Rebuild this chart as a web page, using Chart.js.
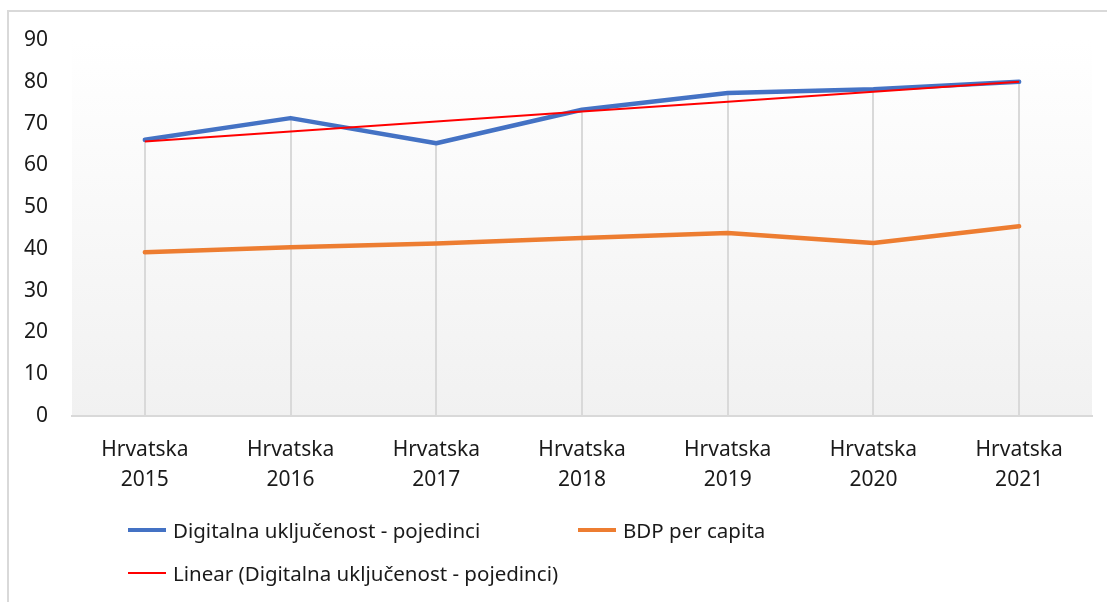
<!DOCTYPE html>
<html>
<head>
<meta charset="utf-8">
<script src="https://cdn.jsdelivr.net/npm/chart.js@4.4.0/dist/chart.umd.min.js"></script>
<style>
  html, body { margin: 0; padding: 0; background: #fff; }
  #wrap { position: relative; width: 1107px; height: 602px; overflow: hidden; font-family: 'Noto Sans', sans-serif; }
  #frame { position: absolute; left: 7px; top: 10px; width: 1200px; height: 700px; border: 2px solid #d9d9d9; box-sizing: border-box; }
  #chart { position: absolute; left: 0; top: 0; }
  .item { position: absolute; height: 30px; line-height: 30px; font-size: 20.5px; color: #1a1a1a; white-space: nowrap; }
  .item span.sw { position: absolute; left: 0; top: 50%; width: 38px; }
  .item span.tx { position: absolute; left: 45px; top: 0; }
</style>
</head>
<body>
<div id="wrap">
  <div id="frame"></div>
  <canvas id="chart" width="1107" height="602"></canvas>
  <div id="legend"></div>
</div>
<script>
var categories = [
  ['Hrvatska', '2015'], ['Hrvatska', '2016'], ['Hrvatska', '2017'], ['Hrvatska', '2018'],
  ['Hrvatska', '2019'], ['Hrvatska', '2020'], ['Hrvatska', '2021']
];
var digitalna = [66.1, 71.3, 65.3, 73.3, 77.3, 78.2, 80.0];
var bdp = [39.2, 40.4, 41.3, 42.6, 43.8, 41.4, 45.4];
var linear = [65.7, 68.1, 70.5, 72.9, 75.2, 77.6, 80.0];
var seriesNames = ['Digitalna uključenost - pojedinci', 'BDP per capita', 'Linear (Digitalna uključenost - pojedinci)'];
var yTicks = [0, 10, 20, 30, 40, 50, 60, 70, 80, 90];

var textColor = '#1a1a1a';

// plot background: white at top, light grey at the axis
var plotBg = {
  id: 'plotBg',
  beforeDraw: function(chart) {
    var a = chart.chartArea, ctx = chart.ctx;
    var g = ctx.createLinearGradient(0, a.top, 0, a.bottom);
    g.addColorStop(0, '#ffffff');
    g.addColorStop(1, '#f1f1f1');
    ctx.save();
    ctx.fillStyle = g;
    ctx.fillRect(a.left, a.top, a.right - a.left, a.bottom - a.top);
    ctx.restore();
  }
};

// excel style drop lines: from the highest point of each category to the axis
var dropLines = {
  id: 'dropLines',
  beforeDatasetsDraw: function(chart) {
    var ctx = chart.ctx, y = chart.scales.y, x = chart.scales.x;
    ctx.save();
    ctx.strokeStyle = '#d9d9d9';
    ctx.lineWidth = 2;
    for (var i = 0; i < categories.length; i++) {
      var top = Math.max(digitalna[i], bdp[i]);
      var px = Math.round(x.getPixelForValue(i));
      ctx.beginPath();
      ctx.moveTo(px, y.getPixelForValue(top));
      ctx.lineTo(px, y.getPixelForValue(0));
      ctx.stroke();
    }
    ctx.restore();
  }
};

var ctx = document.getElementById('chart').getContext('2d');
var chart = new Chart(ctx, {
  type: 'line',
  data: {
    labels: categories,
    datasets: [{
      label: seriesNames[0],
      data: digitalna,
      borderColor: '#4472C4',
      borderWidth: 4.5,
      borderCapStyle: 'round',
      borderJoinStyle: 'round',
      pointRadius: 0,
      tension: 0,
      order: 2
    }, {
      label: seriesNames[1],
      data: bdp,
      borderColor: '#ED7D31',
      borderWidth: 4.5,
      borderCapStyle: 'round',
      borderJoinStyle: 'round',
      pointRadius: 0,
      tension: 0,
      order: 3
    }, {
      label: seriesNames[2],
      data: linear,
      borderColor: '#FF0000',
      borderWidth: 2,
      pointRadius: 0,
      tension: 0,
      order: 1
    }]
  },
  options: {
    responsive: false,
    animation: false,
    layout: { padding: { left: 7, right: 15, top: 40, bottom: 105 } },
    plugins: { legend: { display: false }, tooltip: { enabled: false } },
    scales: {
      x: {
        offset: true,
        grid: { display: false, drawTicks: false },
        border: { display: true, color: '#d9d9d9', width: 2 },
        ticks: {
          color: textColor,
          padding: 19,
          maxRotation: 0,
          autoSkip: false,
          font: { family: 'Noto Sans', size: 21, lineHeight: 1.42 }
        },
        afterFit: function(s) { s.height = 81; }
      },
      y: {
        min: 0,
        max: 90,
        grid: { display: false, drawTicks: false },
        border: { display: false },
        afterBuildTicks: function(s) { s.ticks = yTicks.map(function(v) { return { value: v }; }); },
        ticks: {
          color: textColor,
          padding: 24,
          font: { family: 'Noto Sans', size: 21 }
        },
        afterFit: function(s) { s.width = 65; }
      }
    }
  },
  plugins: [plotBg, dropLines]
});

// legend laid out like the excel one (two per row)
var legendPos = [[128, 515], [578, 515], [128, 558]];
var legendWidths = [4.5, 4.5, 2];
var legendEl = document.getElementById('legend');
chart.data.datasets.forEach(function(ds, i) {
  var d = document.createElement('div');
  d.className = 'item';
  d.style.left = legendPos[i][0] + 'px';
  d.style.top = legendPos[i][1] + 'px';
  var sw = document.createElement('span');
  sw.className = 'sw';
  sw.style.height = legendWidths[i] + 'px';
  sw.style.marginTop = (-legendWidths[i] / 2) + 'px';
  sw.style.background = ds.borderColor;
  var tx = document.createElement('span');
  tx.className = 'tx';
  tx.textContent = ds.label;
  d.appendChild(sw);
  d.appendChild(tx);
  legendEl.appendChild(d);
});
</script>
</body>
</html>
